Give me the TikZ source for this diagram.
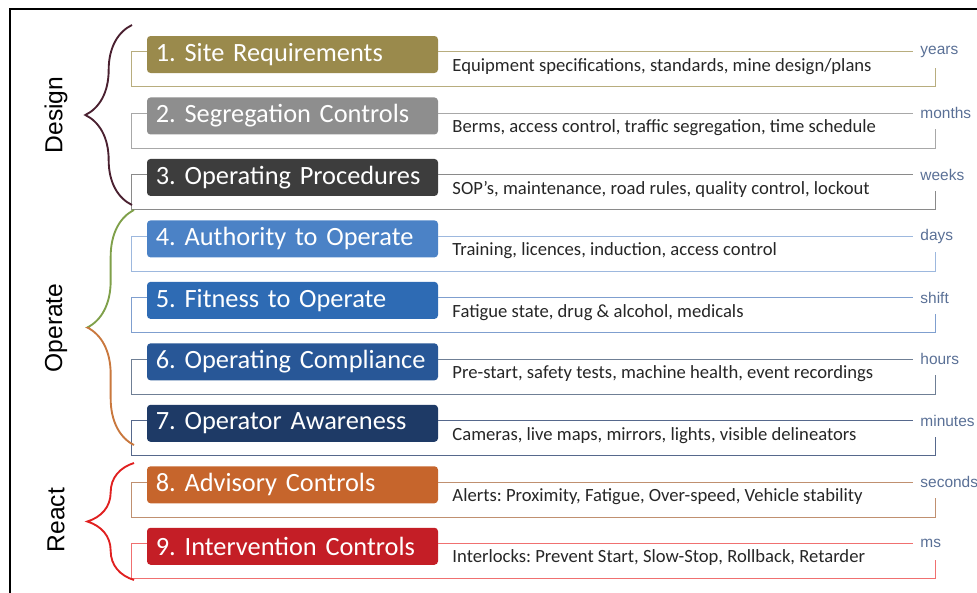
\documentclass[tikz,border=0pt]{standalone}
\usepackage{fontspec}
\newfontfamily\carlito{Carlito}
\newfontfamily\arialfont{Liberation Sans}
\usetikzlibrary{positioning, calc, decorations.pathreplacing}

\definecolor{sitefill}{HTML}{9A8A4C}
\definecolor{siteline}{HTML}{B8AD7E}
\definecolor{segfill}{HTML}{8E8E8E}
\definecolor{segline}{HTML}{A8A8A8}
\definecolor{procfill}{HTML}{3D3D3D}
\definecolor{procline}{HTML}{8A8A8A}
\definecolor{authfill}{HTML}{4B82C6}
\definecolor{authline}{HTML}{9DB8DE}
\definecolor{fitfill}{HTML}{2E6BB4}
\definecolor{fitline}{HTML}{7F9FCF}
\definecolor{compfill}{HTML}{285797}
\definecolor{compline}{HTML}{6F7F95}
\definecolor{awarefill}{HTML}{1E3A66}
\definecolor{awareline}{HTML}{56688C}
\definecolor{advfill}{HTML}{C6652C}
\definecolor{advline}{HTML}{C09070}
\definecolor{intfill}{HTML}{C41E26}
\definecolor{intline}{HTML}{F07070}
\definecolor{timeblue}{HTML}{5A7096}
\definecolor{designbrace}{HTML}{4A2030}
\definecolor{operatetop}{HTML}{7FA04A}
\definecolor{operatebot}{HTML}{C9783E}
\definecolor{reactbrace}{HTML}{E02020}

\begin{document}
\begin{tikzpicture}[
    x=0.3mm, y=0.3mm,
    % Define styles
    ctrl/.style={rectangle, rounded corners=3pt, minimum width=87.3mm, minimum height=11.1mm, text width=82mm, inner xsep=2.65mm, inner ysep=0pt, align=left, text=white, font=\carlito\fontsize{22.5}{26}\selectfont\frenchspacing, execute at begin node={\hyphenpenalty=10000\relax}},
    desc/.style={anchor=base west, inner sep=0pt, text=black!85, font=\carlito\fontsize{15.9}{18}\selectfont\frenchspacing},
    time/.style={anchor=west, inner xsep=2mm, inner ysep=1pt, text=timeblue, font=\arialfont\fontsize{13.2}{15}\selectfont},
    link/.style={line width=0.9pt},
    phase/.style={rotate=90, font=\arialfont\fontsize{21}{24}\selectfont},
    curly/.style={decorate, decoration={brace, amplitude=14mm}, line width=1.6pt},
    ]

    \useasboundingbox (0,0) rectangle (977,-593);

    % Frame
    \draw[line width=1.5pt] (977,-9) -- (10,-9) -- (10,-593);

    % Control boxes
    \node[ctrl, fill=sitefill] (box1) at (292.5,-54.5) {1. Site Requirements};
    \node[ctrl, fill=segfill, below=7.2mm of box1] (box2) {2. Segregation Controls};
    \node[ctrl, fill=procfill, below=7.2mm of box2] (box3) {3. Operating Procedures};
    \node[ctrl, fill=authfill, below=7.2mm of box3] (box4) {4. Authority to Operate};
    \node[ctrl, fill=fitfill, below=7.2mm of box4] (box5) {5. Fitness to Operate};
    \node[ctrl, fill=compfill, below=7.2mm of box5] (box6) {6. Operating Compliance};
    \node[ctrl, fill=awarefill, below=7.2mm of box6] (box7) {7. Operator Awareness};
    \node[ctrl, fill=advfill, below=7.2mm of box7] (box8) {8. Advisory Controls};
    \node[ctrl, fill=intfill, below=7.2mm of box8] (box9) {9. Intervention Controls};

    % Descriptions
    \node[desc] (desc1) at ($(box1.south east)+(14,2)$) {Equipment specifications, standards, mine design/plans};
    \node[desc] (desc2) at ($(box2.south east)+(14,2)$) {Berms, access control, traffic segregation, time schedule};
    \node[desc] (desc3) at ($(box3.south east)+(14,2)$) {SOP’s, maintenance, road rules, quality control, lockout};
    \node[desc] (desc4) at ($(box4.south east)+(14,2)$) {Training, licences, induction, access control};
    \node[desc] (desc5) at ($(box5.south east)+(14,2)$) {Fatigue state, drug \& alcohol, medicals};
    \node[desc] (desc6) at ($(box6.south east)+(14,2)$) {Pre-start, safety tests, machine health, event recordings};
    \node[desc] (desc7) at ($(box7.south east)+(14,2)$) {Cameras, live maps, mirrors, lights, visible delineators};
    \node[desc] (desc8) at ($(box8.south east)+(14,2)$) {Alerts: Proximity, Fatigue, Over-speed, Vehicle stability};
    \node[desc] (desc9) at ($(box9.south east)+(14,2)$) {Interlocks: Prevent Start, Slow-Stop, Rollback, Retarder};

    % Row brackets and time scales
    \draw[link, draw=siteline] (box1.north west) ++(0,-16) -- ++(-15,0) -- ++(0,-35) -- ++(804,0) -- ++(0,19);
    \draw[link, draw=siteline] (box1.north east) ++(0,-16) -- ++(475,0) node[time] (time1) {years};
    \draw[link, draw=segline] (box2.north west) ++(0,-16) -- ++(-15,0) -- ++(0,-35) -- ++(804,0) -- ++(0,19);
    \draw[link, draw=segline] (box2.north east) ++(0,-16) -- ++(475,0) node[time] (time2) {months};
    \draw[link, draw=procline] (box3.north west) ++(0,-16) -- ++(-15,0) -- ++(0,-35) -- ++(804,0) -- ++(0,19);
    \draw[link, draw=procline] (box3.north east) ++(0,-16) -- ++(475,0) node[time] (time3) {weeks};
    \draw[link, draw=authline] (box4.north west) ++(0,-16) -- ++(-15,0) -- ++(0,-35) -- ++(804,0) -- ++(0,19);
    \draw[link, draw=authline] (box4.north east) ++(0,-16) -- ++(475,0) node[time] (time4) {days};
    \draw[link, draw=fitline] (box5.north west) ++(0,-16) -- ++(-15,0) -- ++(0,-35) -- ++(804,0) -- ++(0,19);
    \draw[link, draw=fitline] (box5.north east) ++(0,-16) -- ++(475,0) node[time] (time5) {shift};
    \draw[link, draw=compline] (box6.north west) ++(0,-16) -- ++(-15,0) -- ++(0,-35) -- ++(804,0) -- ++(0,19);
    \draw[link, draw=compline] (box6.north east) ++(0,-16) -- ++(475,0) node[time] (time6) {hours};
    \draw[link, draw=awareline] (box7.north west) ++(0,-16) -- ++(-15,0) -- ++(0,-35) -- ++(804,0) -- ++(0,19);
    \draw[link, draw=awareline] (box7.north east) ++(0,-16) -- ++(475,0) node[time] (time7) {minutes};
    \draw[link, draw=advline] (box8.north west) ++(0,-16) -- ++(-15,0) -- ++(0,-35) -- ++(804,0) -- ++(0,19);
    \draw[link, draw=advline] (box8.north east) ++(0,-16) -- ++(475,0) node[time] (time8) {seconds};
    \draw[link, draw=intline] (box9.north west) ++(0,-16) -- ++(-15,0) -- ++(0,-35) -- ++(804,0) -- ++(0,19);
    \draw[link, draw=intline] (box9.north east) ++(0,-16) -- ++(475,0) node[time] (time9) {ms};

    % Phase braces
    \draw[curly, draw=designbrace] (132,-205) -- (132,-25);
    \begin{scope}
        \clip (60,-200) rectangle (150,-327);
        \draw[curly, draw=operatetop] (134,-445) -- (134,-210);
    \end{scope}
    \begin{scope}
        \clip (60,-327) rectangle (150,-450);
        \draw[curly, draw=operatebot] (134,-445) -- (134,-210);
    \end{scope}
    \draw[curly, draw=reactbrace] (134,-580) -- (134,-463);

    % Phase labels
    \node[phase] (design) at (56,-115) {Design};
    \node[phase] (operate) at (56,-328) {Operate};
    \node[phase] (react) at (56,-520) {React};

\end{tikzpicture}
\end{document}
